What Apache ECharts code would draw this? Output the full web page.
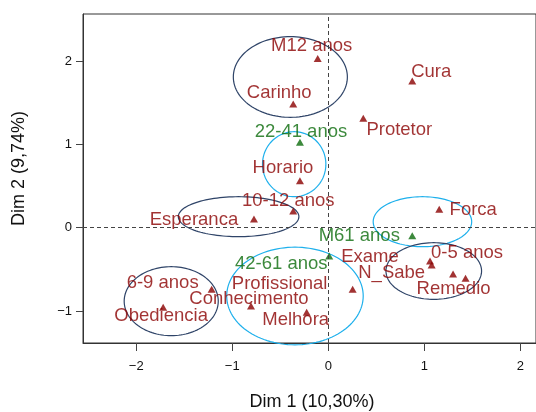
<!DOCTYPE html>
<html>
<head>
<meta charset="utf-8">
<script src="https://cdn.jsdelivr.net/npm/echarts@6/dist/echarts.min.js"></script>
<style>
html,body{margin:0;padding:0;background:#fff;}
#chart{width:536px;height:412px;}
</style>
</head>
<body>
<div id="chart"></div>
<script>
// ---- data ----
const categories = ['M12 anos','Cura','Carinho','Protetor','22-41 anos','Horario','10-12 anos','Esperanca','Forca','M61 anos','42-61 anos','Exame','N_Sabe','0-5 anos','Remedio','Profissional','6-9 anos','Obediencia','Conhecimento','Melhora'];
const dim1 = [-0.11, 0.875, -0.365, 0.365, -0.295, -0.295, -0.365, -0.774, 1.156, 0.875, 0.01, 1.06, 1.077, 1.30, 1.43, 0.254, -1.215, -1.72, -0.805, -0.225];
const dim2 = [2.03, 1.76, 1.485, 1.313, 1.025, 0.564, 0.20, 0.104, 0.221, -0.096, -0.34, -0.40, -0.448, -0.556, -0.607, -0.74, -0.74, -0.956, -0.94, -1.016];
const greenCategories = ['22-41 anos','42-61 anos','M61 anos'];
const tickValues = [-2, -1, 0, 1, 2];
const xTitle = 'Dim 1 (10,30%)';
const yTitle = 'Dim 2 (9,74%)';
// ellipses (centre and radii in data units)
const ellCx = [-0.395, -0.355, -0.934, 0.981, 1.099, -0.347, -1.636];
const ellCy = [1.809, 0.762, 0.132, 0.072, -0.520, -0.820, -0.882];
const ellRx = [0.594, 0.330, 0.628, 0.513, 0.498, 0.711, 0.490];
const ellRy = [0.484, 0.390, 0.240, 0.300, 0.340, 0.586, 0.414];

// ---- styles ----
const RED = '#8b0000', GREEN = '#0b6b0b', NAVY = '#2f4468', CYAN = '#1eb0ec';
const ellColor = [NAVY, CYAN, NAVY, CYAN, NAVY, CYAN, NAVY];
// label offsets in pixels (label centre relative to point)
const labelOffset = [[-6,-13],[19,-9],[-14,-11],[36,12],[1,-10],[-17,-13],[-5,-10],[-60,1],[34,1],[-53,0],[-48,8],[-60,-4],[-40,8],[14,-21],[-12,11],[-73,-5],[-49,-6],[-2,9],[-2,-7],[-11,8]];
const FONT = '"Liberation Sans", Arial, Helvetica, sans-serif';

function makeItems(green){
  const out = [];
  categories.forEach((c, i) => {
    if (greenCategories.includes(c) !== green) return;
    out.push({name: c, value: [dim1[i], dim2[i]], label: {offset: labelOffset[i]}});
  });
  return out;
}

const chart = echarts.init(document.getElementById('chart'), null, {renderer: 'canvas'});
const fmt = v => String(v).replace('-', '\u2212');

const option = {
  animation: false,
  backgroundColor: '#fff',
  grid: {left: 83, top: 14, right: 0, bottom: 69, outerBoundsMode: 'none', containLabel: false, show: true, borderColor: '#333', borderWidth: 1, backgroundColor: 'transparent'},
  xAxis: {
    type: 'value', min: -2.555, max: 2.164,
    splitLine: {show: false},
    axisLine: {show: true, onZero: false, lineStyle: {color: '#333'}},
    axisTick: {show: true, length: 8, customValues: tickValues, lineStyle: {color: '#444'}},
    axisLabel: {customValues: tickValues, formatter: fmt, margin: 17, fontSize: 13, color: '#111', fontFamily: FONT},
    name: xTitle, nameLocation: 'middle', nameGap: 50,
    nameTextStyle: {fontSize: 18, color: '#111', fontFamily: FONT, padding: [0, 0, 0, 5]}
  },
  yAxis: {
    type: 'value', min: -1.384, max: 2.565,
    splitLine: {show: false},
    axisLine: {show: true, onZero: false, lineStyle: {color: '#333'}},
    axisTick: {show: true, length: 7, customValues: tickValues, lineStyle: {color: '#444'}},
    axisLabel: {customValues: tickValues, formatter: fmt, margin: 11, fontSize: 13, color: '#111', fontFamily: FONT},
    name: yTitle, nameLocation: 'middle', nameGap: 55,
    nameTextStyle: {fontSize: 18, color: '#111', fontFamily: FONT, padding: [0, 0, 0, 20]}
  },
  series: [
    {
      type: 'custom',
      coordinateSystem: 'cartesian2d',
      clip: false,
      silent: true,
      z: 1,
      data: ellCx.map((cx, i) => [cx, ellCy[i], ellRx[i], ellRy[i], i]),
      renderItem: function(params, api){
        const c = api.coord([api.value(0), api.value(1)]);
        const s = api.size([api.value(2), api.value(3)]);
        const pts = [];
        for (let k = 0; k <= 120; k++) {
          const t = k / 120 * Math.PI * 2;
          pts.push([c[0] + s[0] * Math.cos(t), c[1] + s[1] * Math.sin(t)]);
        }
        return {type: 'polyline', shape: {points: pts}, style: {fill: null, stroke: ellColor[api.value(4)], lineWidth: 1.2}};
      },
      markLine: {
        silent: true, symbol: 'none', label: {show: false},
        lineStyle: {color: '#444', type: [4, 3], width: 1},
        data: [{xAxis: 0}, {yAxis: 0}]
      }
    },
    {
      type: 'scatter', z: 3,
      symbol: 'triangle', symbolSize: [8, 7],
      itemStyle: {color: RED},
      label: {show: true, position: 'inside', formatter: '{b}', fontSize: 18.5, color: RED, fontFamily: FONT},
      data: makeItems(false)
    },
    {
      type: 'scatter', z: 3,
      symbol: 'triangle', symbolSize: [8, 7],
      itemStyle: {color: GREEN},
      label: {show: true, position: 'inside', formatter: '{b}', fontSize: 18.5, color: GREEN, fontFamily: FONT},
      data: makeItems(true)
    }
  ]
};
chart.setOption(option);
</script>
</body>
</html>
